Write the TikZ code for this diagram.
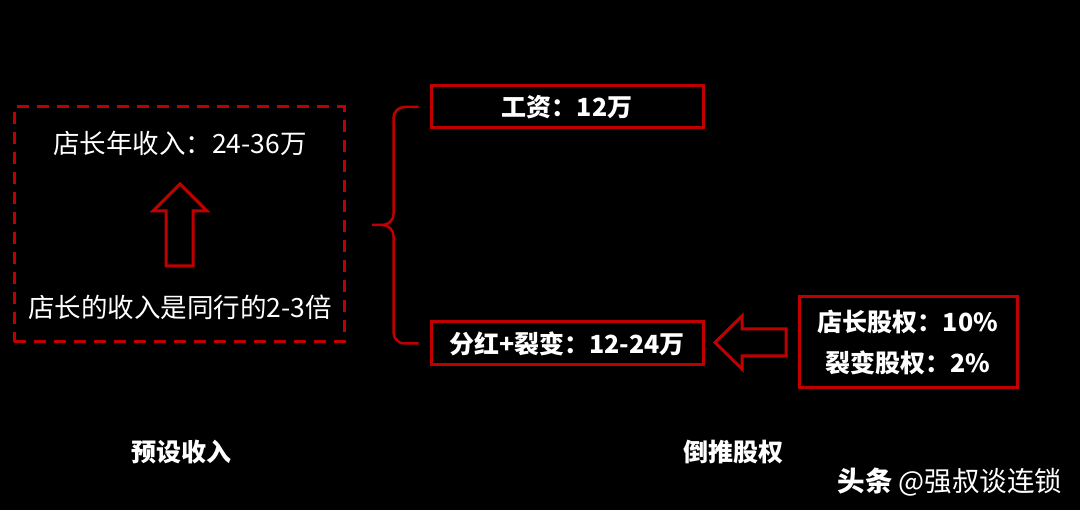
\documentclass[tikz,border=0pt]{standalone}
\usepackage{fontspec}
\setmainfont{Noto Sans CJK SC}
\definecolor{darkred}{HTML}{C00000}

\begin{document}
\begin{tikzpicture}[x=1pt, y=-1pt,
    redbox/.style={draw=darkred, line width=3pt, inner sep=0pt, text=white, font=\fontsize{25}{30}\selectfont\bfseries},
    plain/.style={text=white, font=\fontsize{26.5}{30}\selectfont},
    caption/.style={text=white, font=\fontsize{25}{30}\selectfont\bfseries}]
    % Background
    \fill[black] (0,0) rectangle (1080,510);

    % Preset income (left)
    \node[draw=darkred, line width=3pt, dash pattern=on 12pt off 8pt, minimum width=330pt, minimum height=235pt] (income) at (179,224.5) {};
    \node[plain] (yearly) at (180,143) {店长年收入：24-36万};
    \node[plain] (peer) at (180,307) {店长的收入是同行的2-3倍};
    \draw[darkred, line width=3pt] (180,184) -- (207,211) -- (193,211) -- (193,266)
        -- (166,266) -- (166,211) -- (153,211) -- cycle;

    % Reverse equity (right)
    \node[redbox, minimum width=272pt, minimum height=42pt] (salary) at (567,107) {工资：12万};
    \node[redbox, minimum width=272pt, minimum height=43pt] (bonus) at (567,343.5) {分红+裂变：12-24万};
    \node[redbox, minimum width=218pt, minimum height=91pt, align=center,
        font=\fontsize{25}{41}\selectfont\bfseries] (equity) at (908,342.5) {店长股权：10\%\\裂变股权：2\%};

    % Brace and arrow
    \coordinate (bracetop) at ([xshift=-11pt]salary.west);
    \coordinate (bracebot) at ([xshift=-11pt]bonus.west);
    \coordinate (bracetip) at (372,225);
    \draw[darkred, line width=2.5pt, rounded corners=11pt]
        (bracetop) -- ++(-25,0) |- (bracetip)
        (bracebot) -- ++(-25,0) |- (bracetip);
    \draw[darkred, line width=3pt] (715,342.5) -- (742,316) -- (742,329) -- (786,329)
        -- (786,356) -- (742,356) -- (742,369) -- cycle;

    % Captions
    \node[caption] (preset) at (181,452) {预设收入};
    \node[caption] (reverse) at (733,452) {倒推股权};
    \node[text=white, anchor=west, font=\fontsize{27.5}{30}\selectfont] (mark) at (834,482) {\textbf{头条} @强叔谈连锁};
\end{tikzpicture}
\end{document}
